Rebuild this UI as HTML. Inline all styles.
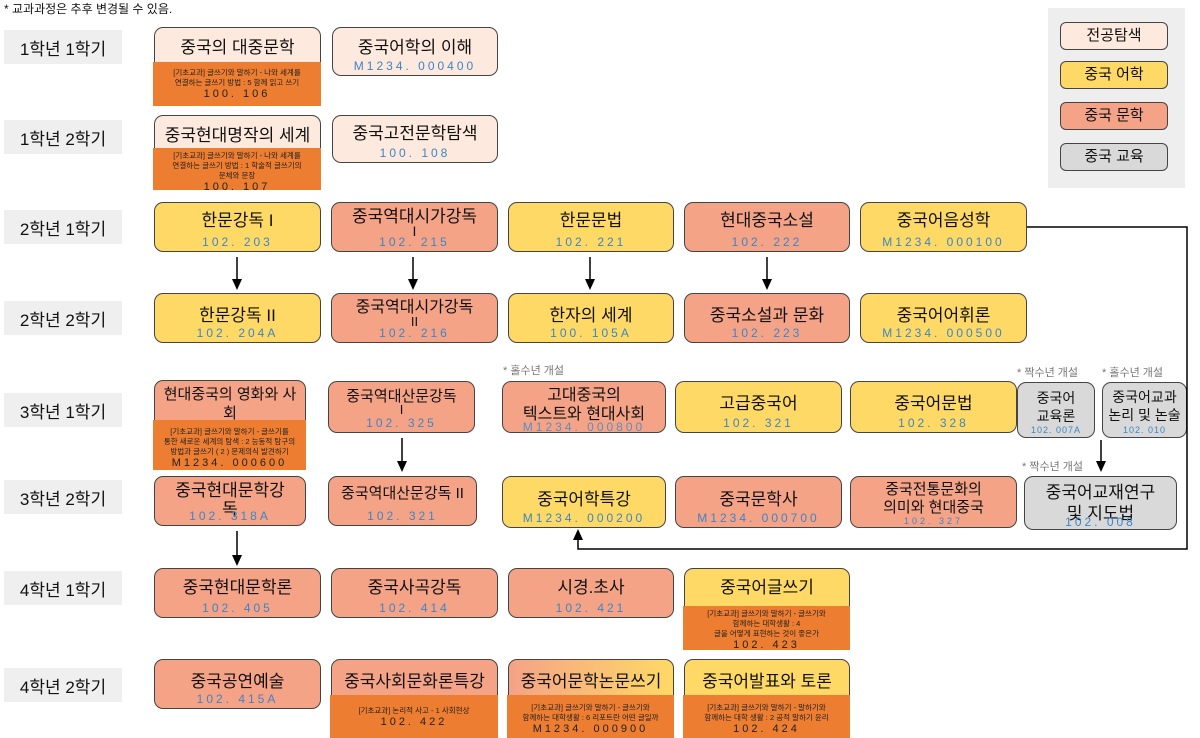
<!DOCTYPE html><html><head><meta charset="utf-8"><style>
body{margin:0;width:1200px;height:738px;background:#fff;position:relative;overflow:hidden;font-family:"Liberation Sans","Noto Sans CJK KR",sans-serif}
.a{position:absolute;box-sizing:border-box}
.lb{position:absolute;background:#efefef;font-size:17px;color:#111;display:flex;align-items:center;justify-content:center;left:4px;width:118px;height:34px}
.n{position:absolute;box-sizing:border-box;border:1.3px solid #444;border-radius:9px;text-align:center;color:#111;font-size:17px;line-height:20px;padding-top:6px;overflow:hidden}
.c{color:#3d85c6;font-size:12px;letter-spacing:3px;line-height:14px;display:block;position:absolute;left:0;right:0;bottom:2px}
.P{background:#fde9dd}.Y{background:#fed966}.S{background:#f4a387}.G{background:#d9d9d9}
.o{position:absolute;background:#ed7d31;font-size:7.5px;line-height:10px;text-align:center;color:#222;box-sizing:border-box;padding-top:6px}
.o b{font-weight:normal;font-size:11px;letter-spacing:3px;display:block;line-height:13px}
.note{position:absolute;font-size:11px;color:#777}
</style></head><body>
<div class="a" style="left:4px;top:0;font-size:12px;color:#111">* 교과과정은 추후 변경될 수 있음.</div>
<div class="lb" style="top:30px">1학년 1학기</div>
<div class="lb" style="top:120px">1학년 2학기</div>
<div class="lb" style="top:210px">2학년 1학기</div>
<div class="lb" style="top:301px">2학년 2학기</div>
<div class="lb" style="top:393px">3학년 1학기</div>
<div class="lb" style="top:480px">3학년 2학기</div>
<div class="lb" style="top:571px">4학년 1학기</div>
<div class="lb" style="top:668px">4학년 2학기</div>

<div class="a" style="left:1048px;top:8px;width:137px;height:180px;background:#eee"></div>
<div class="n P" style="left:1060px;top:22px;width:108px;height:28px;padding-top:3px;font-size:15px;border-radius:6px">전공탐색</div>
<div class="n Y" style="left:1060px;top:61px;width:108px;height:28px;padding-top:3px;font-size:15px;border-radius:6px">중국 어학</div>
<div class="n S" style="left:1060px;top:102px;width:108px;height:28px;padding-top:3px;font-size:15px;border-radius:6px">중국 문학</div>
<div class="n G" style="left:1060px;top:143px;width:108px;height:28px;padding-top:3px;font-size:15px;border-radius:6px">중국 교육</div>

<!-- row1 -->
<div class="n P" style="left:154px;top:27px;width:167px;height:50px;padding-top:10px">중국의 대중문학</div>
<div class="o" style="left:153px;top:62px;width:168px;height:44px">[기초교과] 글쓰기와 말하기 - 나와 세계를<br>연결하는 글쓰기 방법 : 5 함께 읽고 쓰기<b>100. 106</b></div>
<div class="n P" style="left:332px;top:27px;width:166px;height:49px;padding-top:10px">중국어학의 이해<span class="c">M1234. 000400</span></div>
<!-- row2 -->
<div class="n P" style="left:154px;top:115px;width:167px;height:50px;padding-top:10px">중국현대명작의 세계</div>
<div class="o" style="left:153px;top:148px;width:168px;height:42px;padding-top:3px">[기초교과] 글쓰기와 말하기 - 나와 세계를<br>연결하는 글쓰기 방법 : 1 학술적 글쓰기의<br>문체와 문장<b>100. 107</b></div>
<div class="n P" style="left:332px;top:115px;width:166px;height:48px;padding-top:8px">중국고전문학탐색<span class="c">100. 108</span></div>
<!-- row3 -->
<div class="n Y" style="left:154px;top:202px;width:167px;height:50px;padding-top:8px">한문강독 I<span class="c">102. 203</span></div>
<div class="n S" style="left:331px;top:202px;width:167px;height:50px;padding-top:5px;line-height:18px">중국역대시가강독<br><span style="font-size:14px;line-height:10px;display:block">I</span><span class="c">102. 215</span></div>
<div class="n Y" style="left:508px;top:202px;width:166px;height:50px;padding-top:8px">한문문법<span class="c">102. 221</span></div>
<div class="n S" style="left:684px;top:202px;width:166px;height:50px;padding-top:8px">현대중국소설<span class="c">102. 222</span></div>
<div class="n Y" style="left:860px;top:202px;width:167px;height:50px;padding-top:8px">중국어음성학<span class="c">M1234. 000100</span></div>
<!-- row4 -->
<div class="n Y" style="left:154px;top:293px;width:167px;height:50px;padding-top:12px">한문강독 II<span class="c">102. 204A</span></div>
<div class="n S" style="left:331px;top:293px;width:167px;height:50px;padding-top:5px;font-size:16px;line-height:18px">중국역대시가강독<br><span style="font-size:13px;line-height:10px;display:block">II</span><span class="c">102. 216</span></div>
<div class="n Y" style="left:508px;top:293px;width:166px;height:50px;padding-top:12px">한자의 세계<span class="c">100. 105A</span></div>
<div class="n S" style="left:684px;top:293px;width:166px;height:50px;padding-top:12px">중국소설과 문화<span class="c">102. 223</span></div>
<div class="n Y" style="left:860px;top:293px;width:167px;height:50px;padding-top:12px">중국어어휘론<span class="c">M1234. 000500</span></div>
<!-- row5 -->
<div class="note" style="left:503px;top:362px">* 홀수년 개설</div>
<div class="note" style="left:1017px;top:364px">* 짝수년 개설</div>
<div class="note" style="left:1102px;top:364px">* 홀수년 개설</div>
<div class="n S" style="left:154px;top:380px;width:152px;height:50px;padding-top:4px;font-size:15px;line-height:19px">현대중국의 영화와 사<br>회</div>
<div class="o" style="left:153px;top:420px;width:153px;height:50px;padding-top:7px">[기초교과] 글쓰기와 말하기 - 글쓰기를<br>통한 새로운 세계의 탐색 : 2 능동적 탐구의<br>방법과 글쓰기 ( 2 ) 문제의식 발견하기<b>M1234. 000600</b></div>
<div class="n S" style="left:328px;top:381px;width:147px;height:52px;padding-top:6px;font-size:15px;line-height:17px">중국역대산문강독<br><span style="font-size:13px;line-height:10px;display:block">I</span><span class="c">102. 325</span></div>
<div class="n S" style="left:502px;top:381px;width:164px;height:52px;padding-top:4px;font-size:16px;line-height:19px">고대중국의<br>텍스트와 현대사회<span class="c" style="color:#5b8fc0;line-height:10px;bottom:0">M1234. 000800</span></div>
<div class="n Y" style="left:675px;top:381px;width:167px;height:52px;padding-top:12px">고급중국어<span class="c">102. 321</span></div>
<div class="n Y" style="left:850px;top:381px;width:167px;height:52px;padding-top:12px">중국어문법<span class="c">102. 328</span></div>
<div class="n G" style="left:1017px;top:382px;width:78px;height:56px;padding-top:6px;font-size:14px;line-height:18px">중국어<br>교육론<span class="c" style="font-size:9px;letter-spacing:1px;line-height:10px">102. 007A</span></div>
<div class="n G" style="left:1102px;top:382px;width:85px;height:56px;padding-top:5px;font-size:14px;line-height:18px">중국어교과<br>논리 및 논술<span class="c" style="font-size:9px;letter-spacing:1px;line-height:10px">102. 010</span></div>
<!-- row6 -->
<div class="note" style="left:1022px;top:458px">* 짝수년 개설</div>
<div class="n S" style="left:154px;top:476px;width:152px;height:50px;padding-top:4px;line-height:19px">중국현대문학강<br>독<span class="c">102. 318A</span></div>
<div class="n S" style="left:328px;top:476px;width:149px;height:50px;padding-top:7px;font-size:15px">중국역대산문강독 II<span class="c">102. 321</span></div>
<div class="n Y" style="left:502px;top:476px;width:164px;height:52px;padding-top:13px">중국어학특강<span class="c">M1234. 000200</span></div>
<div class="n S" style="left:675px;top:476px;width:167px;height:52px;padding-top:13px">중국문학사<span class="c">M1234. 000700</span></div>
<div class="n S" style="left:850px;top:476px;width:167px;height:52px;padding-top:4px;font-size:15px;line-height:18px">중국전통문화의<br>의미와 현대중국<span class="c" style="font-size:9px;line-height:9px;bottom:1px">102. 327</span></div>
<div class="n G" style="left:1024px;top:476px;width:153px;height:54px;padding-top:5px;line-height:21px">중국어교재연구<br>및 지도법<span class="c" style="bottom:1px;line-height:11px">102. 008</span></div>
<!-- row7 -->
<div class="n S" style="left:154px;top:568px;width:167px;height:50px;padding-top:9px">중국현대문학론<span class="c">102. 405</span></div>
<div class="n S" style="left:331px;top:568px;width:167px;height:50px;padding-top:9px">중국사곡강독<span class="c">102. 414</span></div>
<div class="n S" style="left:508px;top:568px;width:166px;height:50px;padding-top:9px">시경.초사<span class="c">102. 421</span></div>
<div class="n Y" style="left:684px;top:568px;width:166px;height:50px;padding-top:9px">중국어글쓰기</div>
<div class="o" style="left:683px;top:606px;width:167px;height:44px;padding-top:3px">[기초교과] 글쓰기와 말하기 - 글쓰기와<br>함께하는 대학생활 : 4<br>글을 어떻게 표현하는 것이 좋은가<b>102. 423</b></div>
<!-- row8 -->
<div class="n S" style="left:154px;top:659px;width:167px;height:50px;padding-top:12px">중국공연예술<span class="c">102. 415A</span></div>
<div class="n S" style="left:331px;top:659px;width:167px;height:50px;padding-top:12px">중국사회문화론특강</div>
<div class="o" style="left:330px;top:695px;width:168px;height:43px;padding-top:11px">[기초교과] 논리적 사고 - 1 사회현상<b>102. 422</b></div>
<div class="n" style="left:508px;top:659px;width:166px;height:50px;padding-top:12px;background:linear-gradient(90deg,#f4a387,#fed966)">중국어문학논문쓰기</div>
<div class="o" style="left:507px;top:695px;width:167px;height:43px;padding-top:8px">[기초교과] 글쓰기와 말하기 - 글쓰기와<br>함께하는 대학생활 : 6 리포트란 어떤 글일까<b>M1234. 000900</b></div>
<div class="n Y" style="left:684px;top:659px;width:166px;height:50px;padding-top:12px">중국어발표와 토론</div>
<div class="o" style="left:683px;top:695px;width:167px;height:43px;padding-top:8px">[기초교과] 글쓰기와 말하기 - 말하기와<br>함께하는 대학 생활 : 2 공적 말하기 윤리<b>102. 424</b></div>

<svg class="a" style="left:0;top:0" width="1200" height="738">
<g stroke="#000" stroke-width="1.5" fill="none">
<path d="M237 257V280"/><path d="M413 257V280"/><path d="M590 257V280"/><path d="M767 257V280"/>
<path d="M402 438V462"/><path d="M1101 440V462"/><path d="M237 531V556"/>
<path d="M1027 227H1187V549H578V538"/>
</g>
<g fill="#000">
<path d="M232 279h10l-5 11z"/><path d="M408 279h10l-5 11z"/><path d="M585 279h10l-5 11z"/><path d="M762 279h10l-5 11z"/>
<path d="M397 461h10l-5 11z"/><path d="M1096 461h10l-5 11z"/><path d="M232 555h10l-5 11z"/>
<path d="M573 540h10l-5 -11z"/>
</g>
</svg>
</body></html>
